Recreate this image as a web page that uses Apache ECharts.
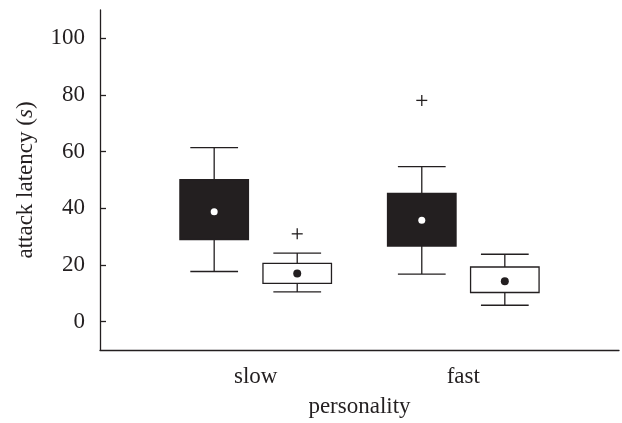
<!DOCTYPE html>
<html>
<head>
<meta charset="utf-8">
<script src="https://cdn.jsdelivr.net/npm/echarts@6/dist/echarts.min.js"></script>
<style>
  html, body { margin: 0; padding: 0; background: #fff; }
  #chart { width: 622px; height: 423px; }
</style>
</head>
<body>
<div id="chart"></div>
<script>
// categories on the x axis
var categories = ["slow", "fast"];
var yTicks = [0, 20, 40, 60, 80, 100];

// box rows: [lower whisker, q1, q3, upper whisker]
var darkBox = [[17.7, 29.0, 50.1, 61.4], [16.8, 26.7, 45.3, 54.7]];
var lightBox = [[10.5, 13.5, 20.6, 24.2], [5.8, 10.3, 19.3, 23.8]];
// means (dots)
var darkMean = [38.8, 35.8];
var lightMean = [17.0, 14.3];
// outliers: [category index, value]
var darkOutliers = [[1, 78.1]];
var lightOutliers = [[0, 31.0]];

var ink = "#231f20";
var font = "Liberation Serif";
var offset = 0.2;

function boxData(rows, off) {
  return rows.map(function (r, i) {
    return [i + 1 + off].concat(r);
  });
}
function meanData(vals, off) {
  return vals.map(function (v, i) {
    return [i + 1 + off, v];
  });
}
function outlierData(rows, off) {
  return rows.map(function (r) {
    return [r[0] + 1 + off, r[1]];
  });
}

function boxRenderer(fill) {
  return function (params, api) {
    var x = api.value(0);
    var lo = api.coord([x, api.value(1)]);
    var q1 = api.coord([x, api.value(2)]);
    var q3 = api.coord([x, api.value(3)]);
    var hi = api.coord([x, api.value(4)]);
    var bw = api.size([0.33, 0])[0];
    var cw = api.size([0.23, 0])[0];
    var st = { stroke: ink, lineWidth: 1.3 };
    return {
      type: "group",
      children: [
        { type: "line", shape: { x1: hi[0], y1: hi[1], x2: hi[0], y2: q3[1] }, style: st },
        { type: "line", shape: { x1: lo[0], y1: lo[1], x2: lo[0], y2: q1[1] }, style: st },
        { type: "line", shape: { x1: hi[0] - cw / 2, y1: hi[1], x2: hi[0] + cw / 2, y2: hi[1] }, style: st },
        { type: "line", shape: { x1: lo[0] - cw / 2, y1: lo[1], x2: lo[0] + cw / 2, y2: lo[1] }, style: st },
        {
          type: "rect",
          shape: { x: q3[0] - bw / 2, y: q3[1], width: bw, height: q1[1] - q3[1] },
          style: { fill: fill, stroke: ink, lineWidth: 1.3 }
        }
      ]
    };
  };
}

function plusRenderer(params, api) {
  var p = api.coord([api.value(0), api.value(1)]);
  var h = 5.5;
  var st = { stroke: ink, lineWidth: 1.3 };
  return {
    type: "group",
    children: [
      { type: "line", shape: { x1: p[0] - h, y1: p[1], x2: p[0] + h, y2: p[1] }, style: st },
      { type: "line", shape: { x1: p[0], y1: p[1] - h, x2: p[0], y2: p[1] + h }, style: st }
    ]
  };
}

var chart = echarts.init(document.getElementById("chart"));
chart.setOption({
  animation: false,
  backgroundColor: "#fff",
  grid: { left: 100, right: 3, top: 10, bottom: 72 },
  xAxis: {
    type: "value",
    min: 0.25,
    max: 2.75,
    name: "personality",
    nameLocation: "middle",
    nameGap: 45,
    nameTextStyle: { fontFamily: font, fontSize: 23, color: ink },
    axisLine: { onZero: false, lineStyle: { color: ink, width: 1.3 } },
    axisTick: { show: false },
    splitLine: { show: false },
    axisLabel: {
      customValues: [1, 2],
      margin: 15,
      fontFamily: font,
      fontSize: 23,
      color: ink,
      formatter: function (v) {
        return categories[Math.round(v) - 1] || "";
      }
    }
  },
  yAxis: {
    type: "value",
    min: -10,
    max: 110,
    name: "attack latency ({i|s})",
    nameLocation: "middle",
    nameGap: 63,
    nameTextStyle: {
      fontFamily: font,
      fontSize: 23,
      color: ink,
      rich: { i: { fontFamily: font, fontSize: 23, fontStyle: "italic", color: ink } }
    },
    axisLine: { show: true, onZero: false, lineStyle: { color: ink, width: 1.3 } },
    axisTick: { show: true, inside: true, length: 6, customValues: yTicks, lineStyle: { color: ink, width: 1.3 } },
    splitLine: { show: false },
    axisLabel: {
      customValues: yTicks,
      margin: 15,
      fontFamily: font,
      fontSize: 23,
      color: ink
    }
  },
  series: [
    {
      name: "dark",
      type: "custom",
      renderItem: boxRenderer(ink),
      data: boxData(darkBox, -offset),
      z: 2
    },
    {
      name: "light",
      type: "custom",
      renderItem: boxRenderer("#fff"),
      data: boxData(lightBox, offset),
      z: 2
    },
    {
      name: "dark mean",
      type: "scatter",
      symbol: "circle",
      symbolSize: 7,
      itemStyle: { color: "#fff", opacity: 1 },
      data: meanData(darkMean, -offset),
      z: 5
    },
    {
      name: "light mean",
      type: "scatter",
      symbol: "circle",
      symbolSize: 8,
      itemStyle: { color: ink, opacity: 1 },
      data: meanData(lightMean, offset),
      z: 5
    },
    {
      name: "dark outliers",
      type: "custom",
      renderItem: plusRenderer,
      data: outlierData(darkOutliers, -offset)
    },
    {
      name: "light outliers",
      type: "custom",
      renderItem: plusRenderer,
      data: outlierData(lightOutliers, offset)
    }
  ]
});
</script>
</body>
</html>
